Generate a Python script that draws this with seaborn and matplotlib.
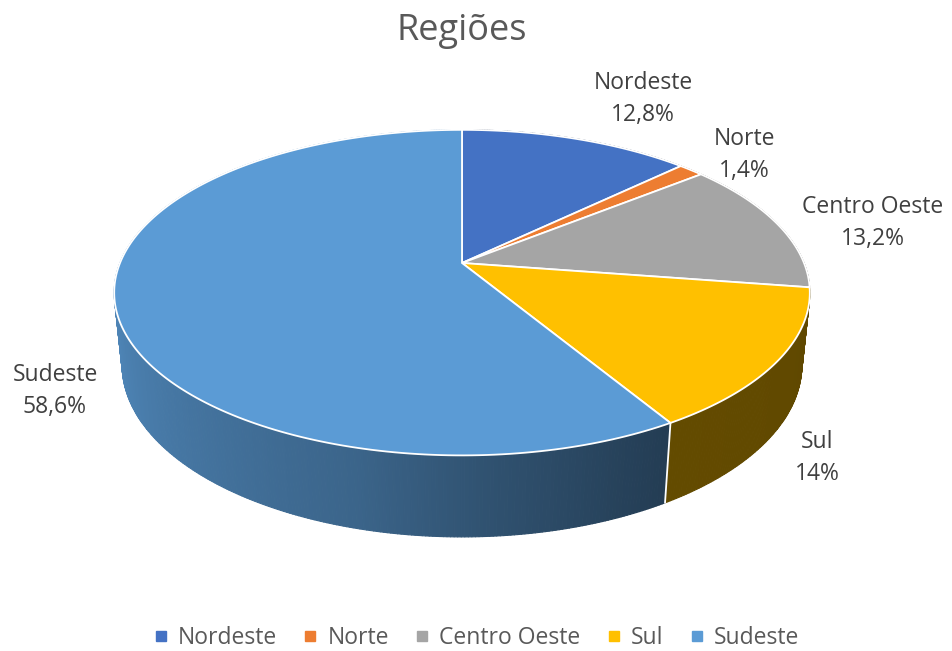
import numpy as np
import matplotlib
matplotlib.use("Agg")
import matplotlib.pyplot as plt
from matplotlib.patches import Polygon
from matplotlib.collections import PolyCollection
from matplotlib.lines import Line2D
import seaborn as sns

# data
regions = ["Nordeste", "Norte", "Centro Oeste", "Sul", "Sudeste"]
shares = [12.8, 1.4, 13.2, 14.0, 58.6]
share_labels = ["12,8%", "1,4%", "13,2%", "14%", "58,6%"]
colors = ["#4472C4", "#ED7D31", "#A5A5A5", "#FFC000", "#5B9BD5"]

sns.set_theme(style="white")
plt.rcParams["font.family"] = ["Open Sans", "DejaVu Sans"]
pal = sns.color_palette(colors)

# projection of the 3d disc (camera tilted, with perspective)
cx, cy = 462, 263
alpha = np.radians(27.4)
c, s = np.cos(alpha), np.sin(alpha)
D = 4.88
f = 1669
h = 0.24


def proj(t_deg, z):
    t = np.radians(t_deg)
    X, Y = np.cos(t), np.sin(t)
    depth = D + Y * c - z * s
    xs = cx + f * X / depth
    ys = cy - f * (Y * s + z * c) / depth
    return xs, ys, depth


def shade(t):
    xp = [-270, -180, -165, -105, -87, -68, -59, 0, 90]
    fp = [0.88, 0.88, 0.86, 0.65, 0.53, 0.43, 0.39, 0.37, 0.37]
    return np.interp(t, xp, fp)


fig = plt.figure(figsize=(9.52, 6.51), dpi=100)
ax = fig.add_axes([0, 0, 1, 1])
ax.set_xlim(0, 952)
ax.set_ylim(651, 0)
ax.axis("off")

# slice angles: start at 12 o'clock, clockwise
fracs = np.array(shares) / np.sum(shares)
edges = 90 - 360 * np.concatenate([[0], np.cumsum(fracs)])

# side walls
quads, qcols, qdepth = [], [], []
for i in range(len(regions)):
    t1, t2 = edges[i], edges[i + 1]
    n = max(int(abs(t1 - t2) * 2), 2)
    ts = np.linspace(t1, t2, n + 1)
    for a, b in zip(ts[:-1], ts[1:]):
        xa, ya, da = proj(a, 0)
        xb, yb, db = proj(b, 0)
        xa2, ya2, _ = proj(a, -h)
        xb2, yb2, _ = proj(b, -h)
        quads.append([(xa, ya), (xb, yb), (xb2, yb2), (xa2, ya2)])
        k = shade((a + b) / 2)
        col = np.clip(np.array(pal[i]) * k, 0, 1)
        qcols.append(col)
        qdepth.append((da + db) / 2)

order = np.argsort(qdepth)[::-1]
pc = PolyCollection([quads[j] for j in order], facecolors=[qcols[j] for j in order],
                    edgecolors=[qcols[j] for j in order], linewidths=0.8)
ax.add_collection(pc)

# white seam on the wall between Sul and Sudeste
xs0, ys0, _ = proj(edges[4], 0)
xs1, ys1, _ = proj(edges[4], -h)
ax.plot([xs0, xs1], [ys0, ys1], color="white", lw=1.3)

# top face
for i in range(len(regions)):
    ts = np.linspace(edges[i], edges[i + 1], 200)
    px, py, _ = proj(ts, 0)
    pts = np.column_stack([np.r_[cx, px], np.r_[cy, py]])
    ax.add_patch(Polygon(pts, closed=True, facecolor=pal[i], edgecolor="white", lw=1.3))

# labels
label_pos = [(643, 99), (744, 155), (873, 223), (817, 458), (55, 391)]
for (lx, ly), name, lab in zip(label_pos, regions, share_labels):
    ax.text(lx, ly, f"{name}\n{lab}", ha="center", va="center", fontsize=16.5,
            color="#404040", linespacing=1.45)

ax.text(462, 31, "Regiões", ha="center", va="center", fontsize=26, color="#595959")

handles = [Line2D([], [], marker="s", linestyle="none", markersize=7,
                  markerfacecolor=pal[i], markeredgecolor=pal[i]) for i in range(len(regions))]
fig.legend(handles, regions, loc="center", bbox_to_anchor=(0.5, 1 - 638 / 651), ncol=5,
           frameon=False, fontsize=16.5, labelcolor="#595959", handlelength=0.7,
           handletextpad=0.4, columnspacing=1.1)

fig.savefig("out.png", dpi=100, facecolor="white")
